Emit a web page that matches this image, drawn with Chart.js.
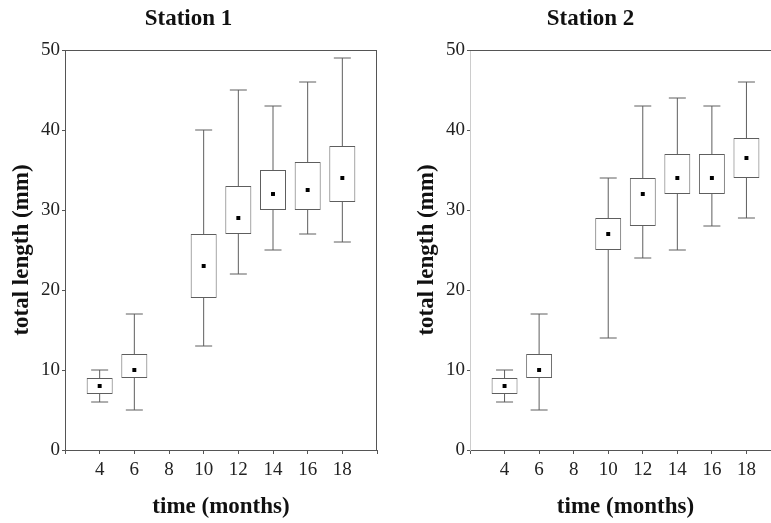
<!DOCTYPE html>
<html>
<head>
<meta charset="utf-8">
<script src="https://cdn.jsdelivr.net/npm/chart.js@4.4.1/dist/chart.umd.min.js"></script>
<style>
  html, body { margin: 0; padding: 0; background: #fff; }
  body { width: 771px; height: 523px; overflow: hidden; position: relative; }
  canvas { position: absolute; top: 0; }
  #c1 { left: 0; }
  #c2 { left: 400px; }
</style>
</head>
<body>
<canvas id="c1" width="420" height="523"></canvas>
<canvas id="c2" width="430" height="523"></canvas>
<script>
// ---- data ----
const months = [4, 6, 10, 12, 14, 16, 18];
const xTickValues = [2, 4, 6, 8, 10, 12, 14, 16, 18, 20];
const xTickLabels = ['', '4', '6', '8', '10', '12', '14', '16', '18', ''];
const yTickValues = [0, 10, 20, 30, 40, 50];

const s1Min  = [6, 5, 13, 22, 25, 27, 26];
const s1Q1   = [7, 9, 19, 27, 30, 30, 31];
const s1Q3   = [9, 12, 27, 33, 35, 36, 38];
const s1Max  = [10, 17, 40, 45, 43, 46, 49];
const s1Mean = [8, 10, 23, 29, 32, 32.5, 34];

const s2Min  = [6, 5, 14, 24, 25, 28, 29];
const s2Q1   = [7, 9, 25, 28, 32, 32, 34];
const s2Q3   = [9, 12, 29, 34, 37, 37, 39];
const s2Max  = [10, 17, 34, 43, 44, 43, 46];
const s2Mean = [8, 10, 27, 32, 34, 34, 36.5];

const FONT = "'Liberation Serif', 'Times New Roman', serif";
const LINE = '#5e5e5e';

const framePlugin = {
  id: 'frame',
  beforeDatasetsDraw(chart, args, o) {
    const { ctx, chartArea: { left, right, top, bottom } } = chart;
    ctx.save();
    ctx.strokeStyle = o.color || '#555';
    ctx.lineWidth = 1;
    ctx.beginPath();
    ctx.moveTo(left, top + 0.5);
    ctx.lineTo(right, top + 0.5);
    if (o.right) {
      ctx.moveTo(right - 0.5, top);
      ctx.lineTo(right - 0.5, bottom);
    }
    ctx.stroke();
    ctx.restore();
  }
};

function makeChart(id, title, mins, q1s, q3s, maxs, means, cfg) {
  const meanData = months.map((m, i) => ({ x: m, y: means[i] }));
  const boxData = months.map((m, i) => ({ x: m, y: [q1s[i], q3s[i]] }));
  const whiskerData = months.flatMap((m, i) => [
    { x: m, y: mins[i] }, { x: m, y: maxs[i] }, { x: m, y: null }
  ]);
  const capData = months.flatMap((m, i) => [
    { x: m, y: mins[i] }, { x: m, y: maxs[i] }
  ]);

  return new Chart(document.getElementById(id), {
    type: 'bar',
    data: {
      datasets: [
        {
          type: 'scatter', data: meanData, order: 0,
          pointStyle: 'rect', pointRadius: 2.8, pointHoverRadius: 2.8,
          backgroundColor: '#000', borderColor: '#000', borderWidth: 0
        },
        {
          type: 'bar', data: boxData, order: 1,
          backgroundColor: '#fff', borderColor: LINE, borderWidth: 1,
          borderSkipped: false, categoryPercentage: 1, barPercentage: 0.75
        },
        {
          type: 'scatter', data: whiskerData, order: 2, showLine: true, spanGaps: false,
          borderColor: LINE, borderWidth: 1, pointRadius: 0, pointHoverRadius: 0
        },
        {
          type: 'scatter', data: capData, order: 2,
          pointStyle: 'line', pointRadius: 8.5, pointHoverRadius: 8.5,
          borderColor: LINE, borderWidth: 1, backgroundColor: LINE
        }
      ]
    },
    options: {
      responsive: false,
      animation: false,
      devicePixelRatio: 1,
      layout: { padding: { left: 0, right: cfg.padRight, top: 0, bottom: 0 } },
      plugins: {
        legend: { display: false },
        tooltip: { enabled: false },
        title: {
          display: true, text: title, color: '#111',
          font: { family: FONT, size: 23, weight: 'bold', lineHeight: 1.2 },
          padding: { top: 5, bottom: 17.4 }
        },
        frame: { color: '#555', right: cfg.rightBorder }
      },
      scales: {
        x: {
          type: 'linear', min: 2, max: 20, offset: false,
          afterBuildTicks: (s) => { s.ticks = xTickValues.map(v => ({ value: v })); },
          afterFit: (s) => { s.height = 73; },
          ticks: {
            autoSkip: false, maxRotation: 0, padding: 5, color: '#222',
            font: { family: FONT, size: 19 },
            callback: (v) => xTickLabels[xTickValues.indexOf(v)]
          },
          grid: { display: true, offset: false, drawOnChartArea: false, drawTicks: true, tickLength: 4, color: '#555' },
          border: { display: true, color: '#555' },
          title: {
            display: true, text: 'time (months)', color: '#111',
            font: { family: FONT, size: 23, weight: 'bold', lineHeight: 1.2 },
            padding: { top: 0, bottom: 2 }
          }
        },
        y: {
          type: 'linear', min: 0, max: 50,
          afterBuildTicks: (s) => { s.ticks = yTickValues.map(v => ({ value: v })); },
          afterFit: (s) => { s.width = cfg.yWidth; },
          ticks: { padding: 2, color: '#222', font: { family: FONT, size: 19 } },
          grid: { display: true, offset: false, drawOnChartArea: false, drawTicks: true, tickLength: 3, color: '#555' },
          border: { display: true, color: cfg.yAxisColor },
          title: {
            display: true, text: 'total length (mm)', color: '#111',
            font: { family: FONT, size: 23, weight: 'bold', lineHeight: 1.2 },
            padding: { top: cfg.yTitlePad, bottom: 0 }
          }
        }
      }
    },
    plugins: [framePlugin]
  });
}

makeChart('c1', 'Station 1', s1Min, s1Q1, s1Q3, s1Max, s1Mean,
  { padRight: 43, yWidth: 65, yTitlePad: 8, yAxisColor: '#555', rightBorder: true });
makeChart('c2', 'Station 2', s2Min, s2Q1, s2Q3, s2Max, s2Mean,
  { padRight: 49, yWidth: 70, yTitlePad: 13, yAxisColor: '#ccc', rightBorder: false });
</script>
</body>
</html>
